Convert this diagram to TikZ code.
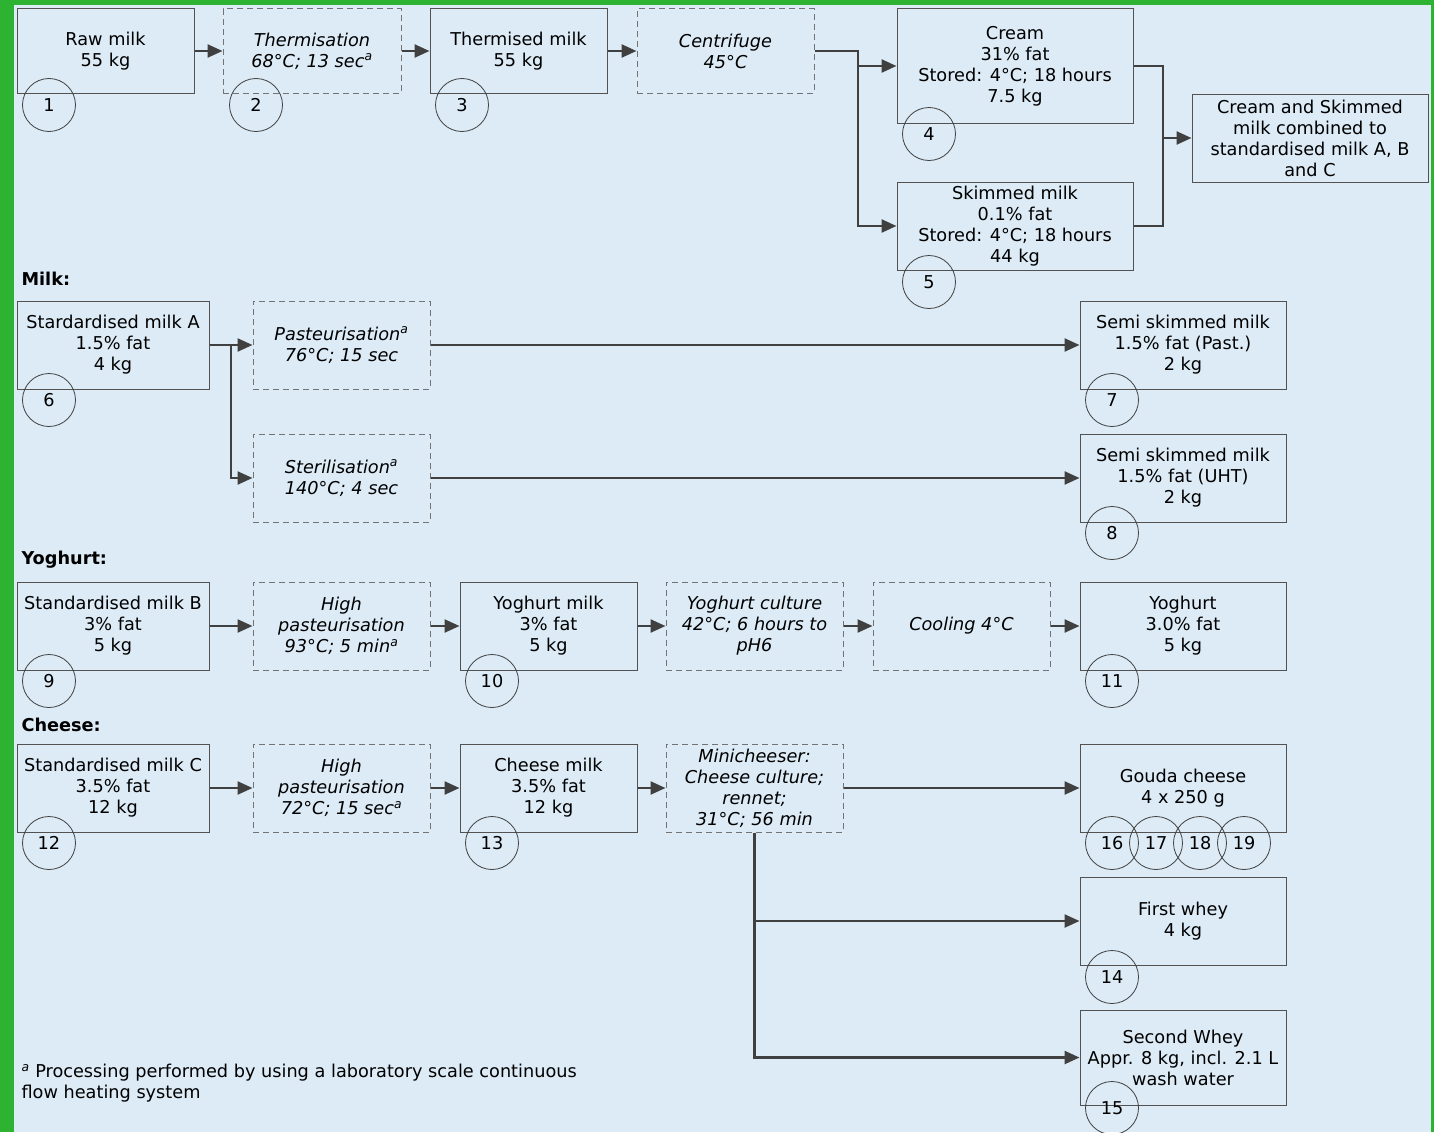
\documentclass[tikz,border=0pt]{standalone}
\usepackage{fontspec}
\setmainfont{DejaVu Sans}
\usetikzlibrary{arrows.meta}
\definecolor{framegreen}{RGB}{46,178,50}
\definecolor{paneblue}{RGB}{220,235,246}
\definecolor{linegrey}{RGB}{64,64,64}
\newcommand\flowfont{\fontsize{17.7}{21}\selectfont}
\tikzset{
  stage/.style={draw=black!68, line width=1pt, align=center, inner sep=0pt,
    minimum width=177pt, minimum height=88pt, font=\flowfont},
  process/.style={stage, draw=black!55, dash pattern=on 6pt off 4pt, font=\flowfont\itshape},
  tag/.style={circle, draw=black!75, line width=0.8pt, minimum size=53pt, inner sep=0pt, font=\flowfont},
  pipe/.style={draw=linegrey, line width=2.4pt},
  flow/.style={pipe, -{Triangle[length=15pt,width=13pt]}},
  group/.style={anchor=west, font=\flowfont\bfseries}
}

\begin{document}
\begin{tikzpicture}[x=1pt, y=-1pt]
  \useasboundingbox (0,0) rectangle (1434,1132);
  \fill [framegreen] (0,0) rectangle (1434,1132);
  \fill [paneblue] (14,5) rectangle (1431,1132);

  % separation
  \node [stage, minimum height=84pt] (raw) at (105.5,51) {Raw milk\\55 kg};
  \node [process, minimum height=84pt, minimum width=178pt] (therm) at (312,51) {Thermisation\\68°C; 13 sec\textsuperscript{a}};
  \node [stage, minimum height=84pt] (thmilk) at (518.5,51) {Thermised milk\\55 kg};
  \node [process, minimum height=84pt] (centri) at (725.5,51) {Centrifuge\\45°C};
  \node [stage, minimum width=236pt, minimum height=114pt] (cream) at (1015,66) {Cream\\31\% fat\\Stored: 4°C; 18 hours\\7.5 kg};
  \node [stage, minimum width=236pt] (skim) at (1015,226) {Skimmed milk\\0.1\% fat\\Stored: 4°C; 18 hours\\44 kg};
  \node [stage, minimum width=236pt] (comb) at (1310,138) {Cream and Skimmed\\milk combined to\\standardised milk A, B\\and C};

  \draw [flow] (raw) -- (therm);
  \draw [flow] (therm) -- (thmilk);
  \draw [flow] (thmilk) -- (centri);
  \coordinate (cjoin) at (858,51);
  \draw [flow] (centri.east) -- (cjoin) |- (skim.west);
  \draw [flow] (cjoin |- cream.west) -- (cream.west);
  \coordinate (mjoin) at (1163,138);
  \draw [pipe] (cream.east) -| (mjoin);
  \draw [pipe] (skim.east) -| (mjoin);
  \draw [flow] (mjoin) -- (comb.west);

  % milk
  \node [group] (milklbl) at (18,279) {Milk:};
  \node [stage, minimum width=192pt] (stdA) at (113,345) {Stardardised milk A\\1.5\% fat\\4 kg};
  \node [process] (past) at (341.5,345) {Pasteurisation\textsuperscript{a}\\76°C; 15 sec};
  \node [process] (ster) at (341.5,478) {Sterilisation\textsuperscript{a}\\140°C; 4 sec};
  \node [stage, minimum width=206pt] (semiP) at (1183,345) {Semi skimmed milk\\1.5\% fat (Past.)\\2 kg};
  \node [stage, minimum width=206pt] (semiU) at (1183,478) {Semi skimmed milk\\1.5\% fat (UHT)\\2 kg};

  \draw [flow] (stdA) -- (past);
  \coordinate (ajoin) at (231,345);
  \draw [flow] (ajoin) |- (ster.west);
  \draw [flow] (past) -- (semiP);
  \draw [flow] (ster) -- (semiU);

  % yoghurt
  \node [group] (yoglbl) at (18,560) {Yoghurt:};
  \node [stage, minimum width=192pt] (stdB) at (113,626) {Standardised milk B\\3\% fat\\5 kg};
  \node [process] (hpY) at (341.5,626) {High\\pasteurisation\\93°C; 5 min\textsuperscript{a}};
  \node [stage] (ymilk) at (548.5,626) {Yoghurt milk\\3\% fat\\5 kg};
  \node [process] (culture) at (754.5,626) {Yoghurt culture\\42°C; 6 hours to\\pH6};
  \node [process] (cool) at (961.5,626) {Cooling 4°C};
  \node [stage, minimum width=206pt] (yog) at (1183,626) {Yoghurt\\3.0\% fat\\5 kg};

  \draw [flow] (stdB) -- (hpY);
  \draw [flow] (hpY) -- (ymilk);
  \draw [flow] (ymilk) -- (culture);
  \draw [flow] (culture) -- (cool);
  \draw [flow] (cool) -- (yog);

  % cheese
  \node [group] (chlbl) at (18,725) {Cheese:};
  \node [stage, minimum width=192pt] (stdC) at (113,788) {Standardised milk C\\3.5\% fat\\12 kg};
  \node [process] (hpC) at (341.5,788) {High\\pasteurisation\\72°C; 15 sec\textsuperscript{a}};
  \node [stage] (cmilk) at (548.5,788) {Cheese milk\\3.5\% fat\\12 kg};
  \node [process] (mini) at (754.5,788) {Minicheeser:\\Cheese culture;\\rennet;\\31°C; 56 min};
  \node [stage, minimum width=206pt] (gouda) at (1183,788) {Gouda cheese\\4 x 250 g};
  \node [stage, minimum width=206pt] (whey1) at (1183,921) {First whey\\4 kg};
  \node [stage, minimum width=206pt, minimum height=95pt] (whey2) at (1183,1057.5) {Second Whey\\Appr. 8 kg, incl. 2.1 L\\wash water};

  \draw [flow] (stdC) -- (hpC);
  \draw [flow] (hpC) -- (cmilk);
  \draw [flow] (cmilk) -- (mini);
  \draw [flow] (mini) -- (gouda);
  \draw [flow] (mini.south) |- (whey2.west);
  \draw [flow] (mini.south |- whey1.west) -- (whey1.west);

  % sample numbers
  \node [tag] (n1) at (49,105) {1};
  \node [tag] (n2) at (256,105) {2};
  \node [tag] (n3) at (462,105) {3};
  \node [tag] (n4) at (929,134) {4};
  \node [tag] (n5) at (929,282) {5};
  \node [tag] (n6) at (49,400) {6};
  \node [tag] (n7) at (1112,400) {7};
  \node [tag] (n8) at (1112,533) {8};
  \node [tag] (n9) at (49,681) {9};
  \node [tag] (n10) at (492,681) {10};
  \node [tag] (n11) at (1112,681) {11};
  \node [tag] (n12) at (49,843) {12};
  \node [tag] (n13) at (492,843) {13};
  \node [tag] (n14) at (1112,977) {14};
  \node [tag] (n15) at (1112,1108) {15};
  \node [tag] (n16) at (1112,843) {16};
  \node [tag] (n17) at (1156,843) {17};
  \node [tag] (n18) at (1200,843) {18};
  \node [tag] (n19) at (1244,843) {19};

  \node [anchor=west, align=left, font=\flowfont] (note) at (18,1083)
    {\textsuperscript{\itshape a} Processing performed by using a laboratory scale continuous\\flow heating system};
\end{tikzpicture}
\end{document}
